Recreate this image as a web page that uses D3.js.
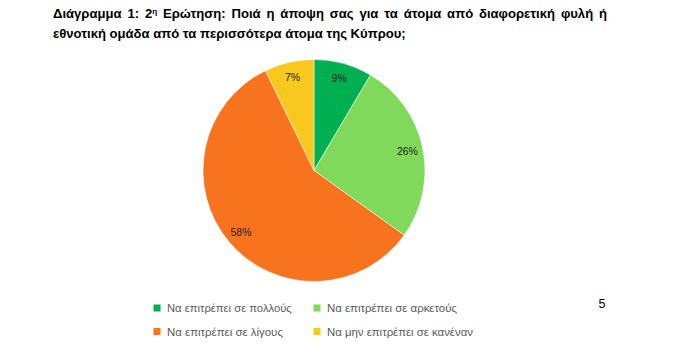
<!DOCTYPE html>
<html><head><meta charset="utf-8">
<script src="https://cdn.jsdelivr.net/npm/d3@7"></script>
<style>body{margin:0;background:#fff}svg{display:block}</style>
</head><body>
<script>
const categories = ["Να επιτρέπει σε πολλούς","Να επιτρέπει σε αρκετούς","Να επιτρέπει σε λίγους","Να μην επιτρέπει σε κανέναν"];
const values = [8.5, 26.4, 57.9, 7.2];
const labels = ["9%","26%","58%","7%"];
const colors = ["#00B050","#80D95A","#F7731E","#F8C81F"];

const W=683,H=355;
const svg=d3.select("body").append("svg").attr("width",W).attr("height",H);
const font="'Liberation Sans', Arial, sans-serif";

// place text at (x,y) horizontally scaled so it spans width w
function scaled(parent,x,y,w,build){
  const g=parent.append("g").attr("transform",`translate(${x},${y})`);
  const t=g.append("text").attr("x",0).attr("y",0);
  build(t);
  const l=t.node().getComputedTextLength();
  if(l>0) t.attr("transform",`scale(${w/l},1)`);
  return t;
}

// Title
const TX=53, L1W=554, L2W=353;
const t2=scaled(svg,TX,37.5,L2W,t=>t.attr("font-family",font).attr("font-weight","bold").attr("font-size",13).attr("fill","#000")
  .text("εθνοτική ομάδα από τα περισσότερα άτομα της Κύπρου;"));
const sc=L2W/t2.node().getComputedTextLength();
const g1=svg.append("g").attr("transform",`translate(${TX},17.5) scale(${sc},1)`);
const t1=g1.append("text").attr("font-family",font).attr("font-weight","bold").attr("font-size",13).attr("fill","#000");
t1.append("tspan").text("Διάγραμμα 1: 2");
t1.append("tspan").attr("baseline-shift","super").attr("font-size",8).text("η");
t1.append("tspan").text(" Ερώτηση: Ποιά η άποψη σας για τα άτομα από διαφορετική φυλή ή");
{
  const l=t1.node().getComputedTextLength()*sc;
  const ws=(L1W-l)/14/sc;
  t1.attr("word-spacing",ws);
}

// Pie
const cx=314, cy=170.5, r=111;
const pie=d3.pie().sort(null).value(d=>d)(values);
const arc=d3.arc().innerRadius(0).outerRadius(r);
const g=svg.append("g").attr("transform",`translate(${cx},${cy})`);
g.selectAll("path").data(pie).join("path").attr("d",arc).attr("fill",(d,i)=>colors[i]).attr("stroke","#fff").attr("stroke-width",0.5);
const larc=d3.arc().innerRadius(r*0.86).outerRadius(r*0.86);
g.selectAll("text").data(pie).join("text")
  .attr("transform",d=>`translate(${larc.centroid(d)})`)
  .attr("text-anchor","middle").attr("dy","0.35em")
  .attr("font-family",font).attr("font-size",10.5).attr("fill","#222")
  .text((d,i)=>labels[i]);

// Legend
const pos=[[157,308],[317,308],[157,331.5],[317,331.5]];
const widths=[125,130,116,146];
categories.forEach((c,i)=>{
  const [x,y]=pos[i];
  svg.append("rect").attr("x",x-3.5).attr("y",y-3.5).attr("width",7).attr("height",7).attr("fill",colors[i]);
  scaled(svg,x+10,y+4,widths[i],t=>t.attr("font-family",font).attr("font-size",11).attr("fill","#595959").text(c));
});
svg.append("text").attr("x",602).attr("y",307.5).attr("text-anchor","middle").attr("font-family",font).attr("font-size",12.5).attr("fill","#000").text("5");
</script>
</body></html>
